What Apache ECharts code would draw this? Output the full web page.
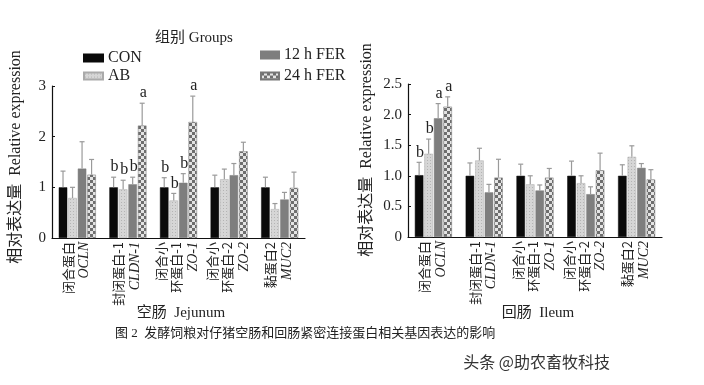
<!DOCTYPE html>
<html><head><meta charset="utf-8">
<script src="https://cdn.jsdelivr.net/npm/echarts@6/dist/echarts.min.js"></script>
<style>html,body{margin:0;padding:0;background:#fff}#c{width:704px;height:385px}</style>
</head><body><div id="c"></div>
<script>
// ---- data ----
const catCn = ['闭合蛋白','封闭蛋白-1','闭合小\n环蛋白-1','闭合小\n环蛋白-2','黏蛋白2'];
const catGene = ['OCLN','CLDN-1','ZO-1','ZO-2','MUC2'];
const seriesNames = ['CON','AB','12 h FER','24 h FER'];
const yTicksJej = [0,1,2,3];
const yTicksIle = [0,0.5,1.0,1.5,2.0,2.5];

// Jejunum means and SE (upper error)
const jejCON = [1.00,1.00,1.00,1.00,1.00];
const jejAB  = [0.79,0.96,0.74,1.16,0.57];
const jej12  = [1.37,1.06,1.09,1.24,0.76];
const jej24  = [1.25,2.22,2.29,1.71,0.99];
const jejCONse = [0.32,0.20,0.19,0.24,0.20];
const jejABse  = [0.21,0.18,0.14,0.20,0.11];
const jej12se  = [0.53,0.14,0.18,0.23,0.14];
const jej24se  = [0.30,0.44,0.51,0.18,0.31];
const jejCONsig = ['','b','b','',''];
const jejABsig  = ['','b','b','',''];
const jej12sig  = ['','b','b','',''];
const jej24sig  = ['','a','a','',''];

// Ileum means and SE
const ileCON = [1.01,1.00,1.00,1.00,1.00];
const ileAB  = [1.36,1.25,0.86,0.88,1.31];
const ile12  = [1.94,0.73,0.76,0.70,1.13];
const ile24  = [2.13,0.97,0.97,1.09,0.94];
const ileCONse = [0.21,0.21,0.19,0.24,0.18];
const ileABse  = [0.24,0.20,0.14,0.12,0.18];
const ile12se  = [0.24,0.13,0.09,0.12,0.07];
const ile24se  = [0.16,0.30,0.15,0.28,0.16];
const ileCONsig = ['b','','','',''];
const ileABsig  = ['b','','','',''];
const ile12sig  = ['a','','','',''];
const ile24sig  = ['a','','','',''];

// ---- styling helpers ----
const SERIF = "'Liberation Serif','Noto Sans CJK SC',serif";
const CJK = "'Noto Sans CJK SC','Liberation Serif',serif";
const TXT = '#222';

function makePattern(kind){
  const cv = document.createElement('canvas');
  if(kind==='check'){
    cv.width=6; cv.height=6;
    const g=cv.getContext('2d');
    g.fillStyle='#e4e4e4'; g.fillRect(0,0,6,6);
    g.fillStyle='#6e6e6e'; g.fillRect(0,0,3,3); g.fillRect(3,3,3,3);
  } else {
    cv.width=3; cv.height=3;
    const g=cv.getContext('2d');
    g.fillStyle='#d6d6d6'; g.fillRect(0,0,3,3);
    g.fillStyle='#b4b4b4'; g.fillRect(1,1,1,1);
  }
  return {image: cv, repeat:'repeat'};
}
const colors = ['#0a0a0a', makePattern('dots'), '#7e7e7e', makePattern('check')];
const borders = ['#0a0a0a','#aaaaaa','#7e7e7e','#777777'];

const BW = 8.5, GAP = 0.12;
function offsetOf(i){ return (i-1.5)*(BW*(1+GAP)); }

function labelFmt(v){
  const idx = catGene.indexOf(v);
  const cn = catCn[idx].split('\n').map(s=>'{c|'+s+'}').join('\n');
  return cn + '\n{g|' + v + '}';
}

const xAxisBase = {
  type:'category', data: catGene,
  axisLine:{lineStyle:{color:'#111',width:1.2}},
  axisTick:{show:false},
  axisLabel:{interval:0, rotate:90, margin:4, color:TXT, formatter:labelFmt,
    rich:{ c:{fontFamily:CJK, fontSize:13, lineHeight:15, color:TXT},
           g:{fontFamily:SERIF, fontStyle:'italic', fontSize:14, lineHeight:19, color:TXT} } }
};

const jejMeans=[jejCON,jejAB,jej12,jej24], jejSE=[jejCONse,jejABse,jej12se,jej24se], jejSig=[jejCONsig,jejABsig,jej12sig,jej24sig];
const ileMeans=[ileCON,ileAB,ile12,ile24], ileSE=[ileCONse,ileABse,ile12se,ile24se], ileSig=[ileCONsig,ileABsig,ile12sig,ile24sig];

const series = [];
function addPanel(gi, means, ses, sigs){
  for(let i=0;i<4;i++){
    series.push({
      name: seriesNames[i], type:'bar', xAxisIndex:gi, yAxisIndex:gi,
      data: means[i], barWidth:BW, barGap:(GAP*100)+'%',
      itemStyle:{color:colors[i], borderColor:borders[i], borderWidth:0.5},
      animation:false
    });
  }
  for(let i=0;i<4;i++){
    const m=means[i], s=ses[i], sg=sigs[i];
    series.push({
      type:'custom', xAxisIndex:gi, yAxisIndex:gi, animation:false, silent:true, z:5,
      data: m.map((v,k)=>[k, v, s[k]]),
      renderItem: function(params, api){
        const k=api.value(0), v=api.value(1), e=api.value(2);
        const p0=api.coord([k,v]), p1=api.coord([k,v+e]);
        const x=p0[0]+offsetOf(i);
        const children=[
          {type:'line', shape:{x1:x,y1:p0[1],x2:x,y2:p1[1]}, style:{stroke:'#9a9a9a',lineWidth:1.2}},
          {type:'line', shape:{x1:x-2.5,y1:p1[1],x2:x+2.5,y2:p1[1]}, style:{stroke:'#9a9a9a',lineWidth:1.2}}
        ];
        const t=sg[params.dataIndex];
        if(t){
          children.push({type:'text', x:x+1, y:p1[1]-2, style:{text:t, fill:TXT, font:"16px "+SERIF, textAlign:'center', textVerticalAlign:'bottom'}});
        }
        return {type:'group', children};
      }
    });
  }
}
addPanel(0, jejMeans, jejSE, jejSig);
addPanel(1, ileMeans, ileSE, ileSig);

const yLabelStyle = {color:TXT, fontFamily:SERIF, fontSize:15, margin:6};

const option = {
  backgroundColor:'#fff',
  animation:false,
  grid:[
    {left:52, top:86, width:253, height:152},
    {left:408, top:84, width:254, height:153}
  ],
  xAxis:[ Object.assign({gridIndex:0}, xAxisBase), Object.assign({gridIndex:1}, xAxisBase) ],
  yAxis:[
    {gridIndex:0, type:'value', min:yTicksJej[0], max:yTicksJej[yTicksJej.length-1], interval:1,
     axisLine:{show:true,lineStyle:{color:'#111',width:1.2}}, axisTick:{show:true,inside:true,length:3,lineStyle:{color:'#111'}},
     splitLine:{show:false}, axisLabel:Object.assign({}, yLabelStyle)},
    {gridIndex:1, type:'value', min:yTicksIle[0], max:yTicksIle[yTicksIle.length-1], interval:0.5,
     axisLine:{show:true,lineStyle:{color:'#111',width:1.2}}, axisTick:{show:true,inside:true,length:3,lineStyle:{color:'#111'}},
     splitLine:{show:false}, axisLabel:Object.assign({formatter:v=> v===0?'0':v.toFixed(1)}, yLabelStyle)}
  ],
  legend:[
    {data:['CON','AB'], orient:'vertical', left:78, top:45, itemWidth:19, itemHeight:7, itemGap:2,
     icon:'rect', textStyle:{fontFamily:SERIF, fontSize:16, color:TXT, lineHeight:13}, selectedMode:false},
    {data:['12 h FER','24 h FER'], orient:'vertical', left:255, top:42, itemWidth:18, itemHeight:7, itemGap:5,
     icon:'rect', textStyle:{fontFamily:SERIF, fontSize:16, color:TXT, lineHeight:13}, selectedMode:false}
  ],
  graphic:[
    {type:'text', x:194, y:38, style:{text:'组别 Groups', font:"15px "+SERIF, fill:TXT, textAlign:'center', textVerticalAlign:'middle'}},
    {type:'text', x:16, y:157, rotation:Math.PI/2, style:{text:'相对表达量  Relative expression', font:"16px "+SERIF, fill:TXT, textAlign:'center', textVerticalAlign:'middle'}},
    {type:'text', x:367, y:150, rotation:Math.PI/2, style:{text:'相对表达量  Relative expression', font:"16px "+SERIF, fill:TXT, textAlign:'center', textVerticalAlign:'middle'}},
    {type:'text', x:181, y:313, style:{text:'空肠  Jejunum', font:"15px "+SERIF, fill:TXT, textAlign:'center', textVerticalAlign:'middle'}},
    {type:'text', x:538, y:313, style:{text:'回肠  Ileum', font:"15px "+SERIF, fill:TXT, textAlign:'center', textVerticalAlign:'middle'}},
    {type:'text', x:115, y:334, style:{text:'图 2  发酵饲粮对仔猪空肠和回肠紧密连接蛋白相关基因表达的影响', font:"13px "+SERIF, fill:TXT, textAlign:'left', textVerticalAlign:'middle'}},
    {type:'text', x:610, y:362, style:{text:'头条 @助农畜牧科技', font:"16px 'Noto Sans CJK SC',sans-serif", fill:'#333', textAlign:'right', textVerticalAlign:'middle'}}
  ],
  series: series
};
const chart = echarts.init(document.getElementById('c'), null, {renderer:'canvas'});
chart.setOption(option);
</script></body></html>
